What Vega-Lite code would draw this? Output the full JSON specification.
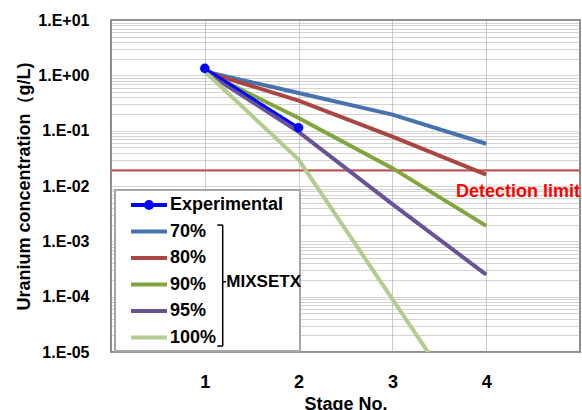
{
  "$schema": "https://vega.github.io/schema/vega-lite/v6.json",
  "width": 469,
  "height": 332,
  "autosize": {"type": "none"},
  "padding": {"left": 111, "top": 20, "right": 2, "bottom": 58},
  "background": "white",
  "config": {
    "view": {"stroke": "#8c8c8c", "strokeWidth": 2},
    "font": "Liberation Sans"
  },
  "data": {
    "values": [
      {"series": "Experimental", "stage": 1, "conc": 1.34},
      {"series": "Experimental", "stage": 2, "conc": 0.113},
      {"series": "70%", "stage": 1, "conc": 1.17},
      {"series": "70%", "stage": 2, "conc": 0.48},
      {"series": "70%", "stage": 3, "conc": 0.195},
      {"series": "70%", "stage": 4, "conc": 0.058},
      {"series": "80%", "stage": 1, "conc": 1.17},
      {"series": "80%", "stage": 2, "conc": 0.35},
      {"series": "80%", "stage": 3, "conc": 0.078},
      {"series": "80%", "stage": 4, "conc": 0.016},
      {"series": "90%", "stage": 1, "conc": 1.17},
      {"series": "90%", "stage": 2, "conc": 0.17},
      {"series": "90%", "stage": 3, "conc": 0.021},
      {"series": "90%", "stage": 4, "conc": 0.0019},
      {"series": "95%", "stage": 1, "conc": 1.17},
      {"series": "95%", "stage": 2, "conc": 0.095},
      {"series": "95%", "stage": 3, "conc": 0.0047},
      {"series": "95%", "stage": 4, "conc": 0.00025},
      {"series": "100%", "stage": 1, "conc": 1.17},
      {"series": "100%", "stage": 2, "conc": 0.03},
      {"series": "100%", "stage": 3, "conc": 0.00009},
      {"series": "100%", "stage": 4, "conc": 0.00000027}
    ]
  },
  "layer": [
    {
      "data": {"values": [{}]},
      "mark": {"type": "rect", "fill": "white", "stroke": "#a6a6a6", "strokeWidth": 2},
      "encoding": {
        "x": {"datum": 0.043, "type": "quantitative"},
        "x2": {"datum": 2.015},
        "y": {"datum": 0.00846, "type": "quantitative"},
        "y2": {"datum": 0.0000104}
      }
    },
    {
      "data": {"values": [{}]},
      "mark": {"type": "rule", "color": "#C0504D", "strokeWidth": 2},
      "encoding": {
        "y": {"datum": 0.019, "type": "quantitative"}
      }
    },
    {
      "transform": [{"filter": "datum.series !== 'Experimental'"}],
      "mark": {"type": "line", "strokeWidth": 4, "clip": true},
      "encoding": {
        "x": {
          "field": "stage", "type": "quantitative",
          "scale": {"domain": [0, 5], "nice": false, "zero": false},
          "axis": {
            "values": [1, 2, 3, 4], "format": "d",
            "grid": true, "gridColor": "#999999", "gridDash": [1, 1], "gridWidth": 1,
            "ticks": false, "tickSize": 0, "domain": false,
            "labelFont": "Liberation Sans", "labelFontSize": 18, "labelFontWeight": "bold", "labelColor": "#000000",
            "labelPadding": 21,
            "title": "Stage No.", "titleFont": "Liberation Sans", "titleFontSize": 18, "titleFontWeight": "bold",
            "titleColor": "#000000", "titlePadding": 4
          }
        },
        "y": {
          "field": "conc", "type": "quantitative",
          "scale": {"type": "log", "domain": [0.00001, 10], "nice": false},
          "axis": {
            "values": [0.00001, 0.00002, 0.00003, 0.00004, 0.00005, 0.00006, 0.00007, 0.00008, 0.00009,
                       0.0001, 0.0002, 0.0003, 0.0004, 0.0005, 0.0006, 0.0007, 0.0008, 0.0009,
                       0.001, 0.002, 0.003, 0.004, 0.005, 0.006, 0.007, 0.008, 0.009,
                       0.01, 0.02, 0.03, 0.04, 0.05, 0.06, 0.07, 0.08, 0.09,
                       0.1, 0.2, 0.3, 0.4, 0.5, 0.6, 0.7, 0.8, 0.9,
                       1, 2, 3, 4, 5, 6, 7, 8, 9, 10],
            "labelExpr": "abs(log(datum.value)/LN10 - round(log(datum.value)/LN10)) < 0.000001 ? ('1.E' + (datum.value >= 1 ? '+' : '-') + '0' + abs(round(log(datum.value)/LN10))) : ''",
            "labelOverlap": false, "labelBound": false, "labelFlush": false,
            "grid": true, "gridColor": "#a6a6a6", "gridDash": [1, 1], "gridWidth": 1,
            "ticks": false, "tickSize": 0, "domain": false,
            "labelFont": "Liberation Sans", "labelFontSize": 16, "labelFontWeight": "bold", "labelColor": "#000000",
            "labelPadding": 22,
            "title": "Uranium concentration（g/L)", "titleFont": "Liberation Sans", "titleFontSize": 18, "titleFontWeight": "bold",
            "titleColor": "#000000", "titlePadding": 4
          }
        },
        "color": {
          "field": "series", "type": "nominal",
          "scale": {
            "domain": ["Experimental", "70%", "80%", "90%", "95%", "100%"],
            "range": ["#0000FF", "#4672AE", "#AA4541", "#82A53D", "#6A5394", "#B3CC8F"]
          },
          "legend": {
            "orient": "none", "legendX": 18, "legendY": 175, "title": null,
            "symbolType": "stroke", "symbolSize": 1296, "symbolStrokeWidth": 4,
            "clipHeight": 20, "rowPadding": 6.5, "padding": 0, "symbolOffset": 0,
            "labelFont": "Liberation Sans", "labelFontSize": 18, "labelFontWeight": "bold", "labelColor": "#000000",
            "labelOffset": 1, "labelLimit": 0,
            "encode": {
              "symbols": {
                "update": {
                  "shape": {"signal": "datum.value === 'Experimental' ? 'M-1,0L1,0M-0.17,0A0.17,0.17,0,1,1,0.17,0A0.17,0.17,0,1,1,-0.17,0Z' : 'stroke'"},
                  "fill": {"signal": "datum.value === 'Experimental' ? '#0000FF' : 'transparent'"},
                  "opacity": {"value": 1}
                }
              }
            }
          }
        }
      }
    },
    {
      "transform": [{"filter": "datum.series === 'Experimental'"}],
      "mark": {"type": "line", "strokeWidth": 3, "clip": true},
      "encoding": {
        "x": {"field": "stage", "type": "quantitative"},
        "y": {"field": "conc", "type": "quantitative"},
        "color": {"field": "series", "type": "nominal"}
      }
    },
    {
      "transform": [{"filter": "datum.series === 'Experimental'"}],
      "mark": {"type": "point", "filled": true, "size": 90, "opacity": 1},
      "encoding": {
        "x": {"field": "stage", "type": "quantitative"},
        "y": {"field": "conc", "type": "quantitative"},
        "color": {"field": "series", "type": "nominal"}
      }
    },
    {
      "data": {"values": [{}]},
      "mark": {"type": "text", "text": "Detection limit", "align": "right", "baseline": "middle",
               "font": "Liberation Sans", "fontSize": 18, "fontWeight": "bold", "color": "#FF0000"},
      "encoding": {
        "x": {"datum": 5, "type": "quantitative"},
        "y": {"datum": 0.0078, "type": "quantitative"}
      }
    },
    {
      "data": {"values": [{}]},
      "mark": {"type": "text", "text": "MIXSETX", "align": "left", "baseline": "middle",
               "font": "Liberation Sans", "fontSize": 17, "fontWeight": "bold", "color": "#000000"},
      "encoding": {
        "x": {"datum": 1.23, "type": "quantitative"},
        "y": {"datum": 0.000186, "type": "quantitative"}
      }
    },
    {
      "data": {"values": [{}]},
      "mark": {"type": "rule", "color": "#000000", "strokeWidth": 1.5},
      "encoding": {
        "x": {"datum": 1.191, "type": "quantitative"},
        "y": {"datum": 0.00197, "type": "quantitative"},
        "y2": {"datum": 0.0000128}
      }
    },
    {
      "data": {"values": [{}]},
      "mark": {"type": "rule", "color": "#000000", "strokeWidth": 1.5},
      "encoding": {
        "x": {"datum": 1.133, "type": "quantitative"},
        "x2": {"datum": 1.191},
        "y": {"datum": 0.00197, "type": "quantitative"}
      }
    },
    {
      "data": {"values": [{}]},
      "mark": {"type": "rule", "color": "#000000", "strokeWidth": 1.5},
      "encoding": {
        "x": {"datum": 1.133, "type": "quantitative"},
        "x2": {"datum": 1.191},
        "y": {"datum": 0.0000128, "type": "quantitative"}
      }
    },
    {
      "data": {"values": [{}]},
      "mark": {"type": "rule", "color": "#000000", "strokeWidth": 1.5},
      "encoding": {
        "x": {"datum": 1.191, "type": "quantitative"},
        "x2": {"datum": 1.226},
        "y": {"datum": 0.000186, "type": "quantitative"}
      }
    }
  ]
}
